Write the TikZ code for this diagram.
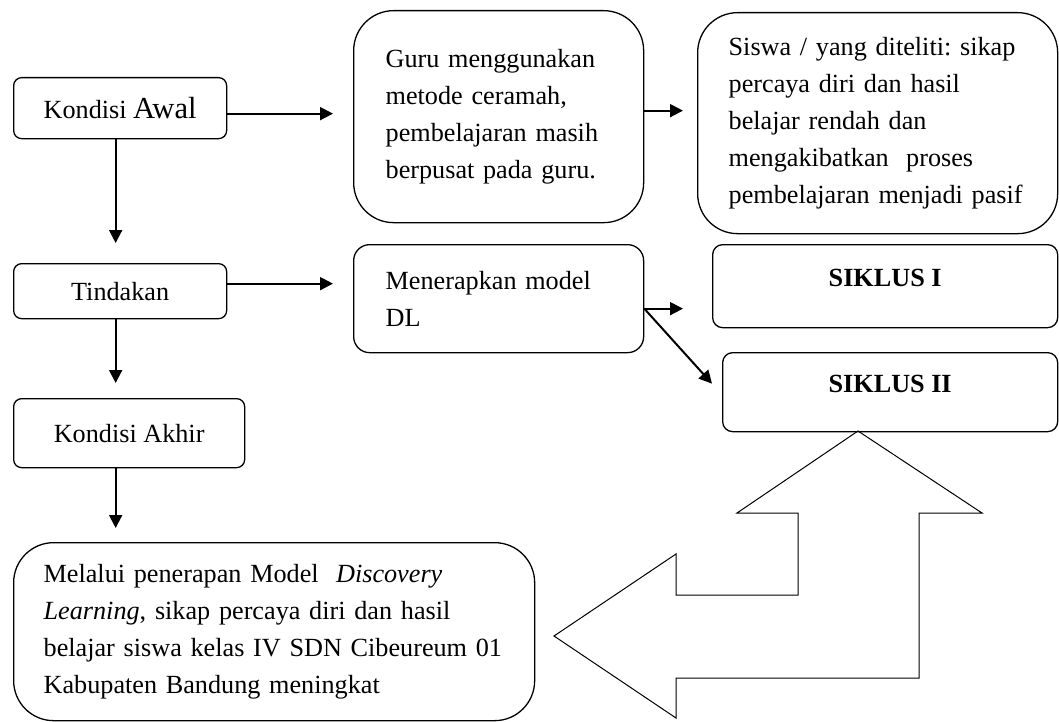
\documentclass[tikz,border=0pt]{standalone}
\usepackage{fontspec}
\setmainfont{Liberation Serif}
\usetikzlibrary{arrows.meta}
\tikzstyle{box} = [rectangle, rounded corners=4pt, draw=black, line width=0.65pt, text centered, anchor=north west, inner sep=0pt]
\tikzstyle{textbox} = [rectangle, rounded corners=20pt, draw=black, line width=0.65pt, align=left, anchor=north west, inner ysep=0pt]
\tikzstyle{arrow} = [line width=1pt, -{Triangle[length=6.5pt, width=6.5pt]}]

\begin{document}
\begin{tikzpicture}[x=0.5pt, y=-0.5pt, font=\fontsize{13.1}{18.5}\selectfont\frenchspacing]
  \useasboundingbox (0,0) rectangle (1059,722);

  \node (1) [box, minimum width=106.5pt, minimum height=30.5pt] at (13,77) {Kondisi {\fontsize{15.3}{18.5}\selectfont Awal}};
  \node (2) [box, minimum width=106.5pt, minimum height=27.5pt] at (13,263) {Tindakan};
  \node (3) [box, minimum width=115.5pt, minimum height=34.5pt] at (13,398) {Kondisi Akhir};

  \node (4) [textbox, inner xsep=16pt, text width=113pt, minimum height=106pt] at (353,10) {Guru menggunakan\\metode ceramah,\\pembelajaran masih\\berpusat pada guru.};
  \node (5) [textbox, inner xsep=15.5pt, text width=149pt, minimum height=110.5pt] at (697,12) {Siswa / yang diteliti: sikap\\percaya diri dan hasil\\belajar rendah dan\\mengakibatkan~ proses\\pembelajaran menjadi pasif};
  \node (6) [textbox, rounded corners=8pt, inner xsep=16pt, text width=113pt, minimum height=54pt] at (353,244) {Menerapkan model\\DL};

  \node (7) [box, rounded corners=5pt, minimum width=172.5pt, minimum height=41.5pt, text depth=8pt] at (712,244) {\textbf{SIKLUS I}};
  \node (8) [box, rounded corners=5pt, minimum width=167.5pt, minimum height=39.5pt, text depth=8pt] at (722,352) {\textbf{SIKLUS II}};

  \node (9) [textbox, inner xsep=15pt, text width=230.5pt, minimum height=89pt] at (13,542) {Melalui penerapan Model~ \textit{Discovery}\\\textit{Learning}, sikap percaya diri dan hasil\\belajar siswa kelas IV SDN Cibeureum 01\\Kabupaten Bandung meningkat};

  \draw [arrow, shorten >=10pt] ([yshift=-2.75pt]1.east) -- ([yshift=-2.75pt]1.east -| 4.west);
  \draw [arrow, shorten >=7pt] ([yshift=3pt]4.east) -- ([yshift=3pt]4.east -| 5.west);
  \draw [arrow, shorten >=10pt] ([xshift=-2.25pt]1.south) -- ([xshift=-2.25pt]1.south |- 2.north);
  \draw [arrow, shorten >=10pt] ([yshift=3.75pt]2.east) -- ([yshift=3.75pt]2.east -| 6.west);
  \draw [arrow, shorten >=7.5pt] ([xshift=-2.25pt]2.south) -- ([xshift=-2.25pt]2.south |- 3.north);
  \draw [arrow, shorten >=7pt] ([xshift=-6.75pt]3.south) -- ([xshift=-6.75pt]3.south |- 9.north);
  \draw [arrow, shorten >=14.5pt] ([yshift=-5pt]6.east) -- ([yshift=-5pt]6.east -| 7.west);
  \draw [arrow] ([yshift=-5pt]6.east) -- ([shift={(-5pt,4.25pt)}]8.west);

  % bent block arrow from siklus II back to the result
  \draw [line width=0.5pt] (858,431) -- (982,513) -- (919,513) -- (919,678) -- (676,678) -- (676,718) -- (554,636) -- (676,554) -- (676,595) -- (798,595) -- (798,513) -- (737,513) -- cycle;
\end{tikzpicture}
\end{document}
